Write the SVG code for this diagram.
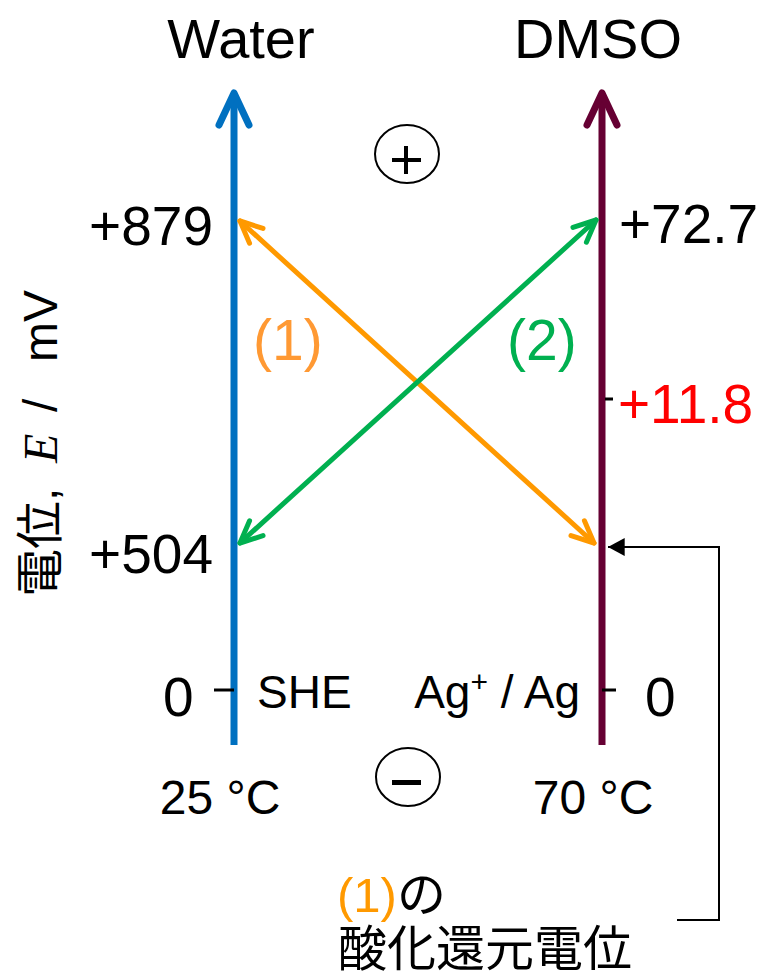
<svg xmlns="http://www.w3.org/2000/svg" width="762" height="980" viewBox="0 0 762 980">
<style>
text{font-family:"Liberation Sans","Noto Sans CJK JP",sans-serif;fill:#000}
.big{font-size:55px}
.mid{font-size:46px}
.jp{font-size:49px}
.tick{stroke:#000;stroke-width:3;fill:none}
</style>
<defs>
<marker id="hB" markerUnits="userSpaceOnUse" markerWidth="60" markerHeight="60" refX="0" refY="0" viewBox="-40 -30 60 60" orient="auto-start-reverse" overflow="visible">
<path d="M-32,-15 L0,0 L-32,15" fill="none" stroke="#0070C0" stroke-width="7" stroke-linecap="round" stroke-linejoin="round"/>
</marker>
<marker id="hP" markerUnits="userSpaceOnUse" markerWidth="60" markerHeight="60" refX="0" refY="0" viewBox="-40 -30 60 60" orient="auto-start-reverse" overflow="visible">
<path d="M-32,-15 L0,0 L-32,15" fill="none" stroke="#660033" stroke-width="7" stroke-linecap="round" stroke-linejoin="round"/>
</marker>
<marker id="hO" markerUnits="userSpaceOnUse" markerWidth="40" markerHeight="40" refX="0" refY="0" viewBox="-30 -20 40 40" orient="auto-start-reverse" overflow="visible">
<path d="M-22,-10 L0,0 L-22,10" fill="none" stroke="#FF9900" stroke-width="5" stroke-linecap="round" stroke-linejoin="round"/>
</marker>
<marker id="hG" markerUnits="userSpaceOnUse" markerWidth="40" markerHeight="40" refX="0" refY="0" viewBox="-30 -20 40 40" orient="auto-start-reverse" overflow="visible">
<path d="M-22,-10 L0,0 L-22,10" fill="none" stroke="#00B050" stroke-width="5" stroke-linecap="round" stroke-linejoin="round"/>
</marker>
<marker id="hK" markerUnits="userSpaceOnUse" markerWidth="20" markerHeight="20" refX="0" refY="0" viewBox="-16 -9 18 18" orient="auto" overflow="visible">
<path d="M-15,-8 L0,0 L-15,8 Z" fill="#000"/>
</marker>
</defs>

<g id="water-axis">
<line x1="234" y1="745" x2="234" y2="93" stroke="#0070C0" stroke-width="7" marker-end="url(#hB)"/>
<text x="241" y="58" font-size="56" text-anchor="middle">Water</text>
<line class="tick" x1="214" y1="690" x2="234" y2="690"/>
<text class="big" x="213" y="245" text-anchor="end">+879</text>
<text class="big" x="213" y="573" text-anchor="end">+504</text>
<text class="big" x="163" y="716">0</text>
<text class="mid" x="257" y="708">SHE</text>
<text x="220" y="814" font-size="48" text-anchor="middle">25 °C</text>
</g>

<g id="dmso-axis">
<line x1="602" y1="745" x2="602" y2="93" stroke="#660033" stroke-width="7" marker-end="url(#hP)"/>
<text x="598" y="58" font-size="56" text-anchor="middle">DMSO</text>
<line class="tick" x1="602" y1="690" x2="616" y2="690"/>
<line class="tick" x1="605" y1="399" x2="613" y2="399"/>
<text class="big" x="619" y="243">+72.7</text>
<text class="big" x="618" y="423" fill="#FF0000" style="fill:#FF0000">+11.8</text>
<text class="big" x="645" y="716">0</text>
<text class="mid" x="580" y="708" text-anchor="end">Ag<tspan font-size="30" dy="-16">+</tspan><tspan dy="16"> / Ag</tspan></text>
<text x="593" y="814" font-size="48" text-anchor="middle">70 °C</text>
</g>

<g id="plus-sign">
<ellipse cx="407" cy="154" rx="32" ry="29" fill="none" stroke="#000" stroke-width="2"/>
<line x1="392" y1="160" x2="421" y2="160" stroke="#000" stroke-width="4"/>
<line x1="406" y1="146" x2="406" y2="174" stroke="#000" stroke-width="4"/>
</g>

<g id="minus-sign">
<ellipse cx="408" cy="777" rx="32" ry="29" fill="none" stroke="#000" stroke-width="2"/>
<rect x="392" y="780" width="29" height="5" fill="#000"/>
</g>

<g id="y-label">
<text transform="rotate(-90)" font-size="48" y="57"><tspan x="-597">電位,</tspan><tspan x="-463" font-family="Liberation Serif" font-style="italic">E</tspan><tspan x="-412">/</tspan><tspan x="-362">mV</tspan></text>
</g>

<g id="label-1">
<text x="253" y="360" font-size="57" fill="#FF9933" style="fill:#FF9933">(1)</text>
</g>
<g id="label-2">
<text x="507" y="360" font-size="57" fill="#00B050" style="fill:#00B050">(2)</text>
</g>

<g id="note">
<text class="jp" x="337" y="912"><tspan style="fill:#FF9900">(1)</tspan>の</text>
<text class="jp" x="338" y="966">酸化還元電位</text>
</g>

<g id="connectors">
<line x1="594" y1="543" x2="240" y2="221" stroke="#FF9900" stroke-width="5" stroke-linecap="round" marker-start="url(#hO)" marker-end="url(#hO)"/>
<line x1="240" y1="543" x2="596" y2="220" stroke="#00B050" stroke-width="5" stroke-linecap="round" marker-start="url(#hG)" marker-end="url(#hG)"/>
<polyline points="677,920 719,920 719,547 608,547" fill="none" stroke="#000" stroke-width="2" marker-end="url(#hK)"/>
</g>
</svg>
